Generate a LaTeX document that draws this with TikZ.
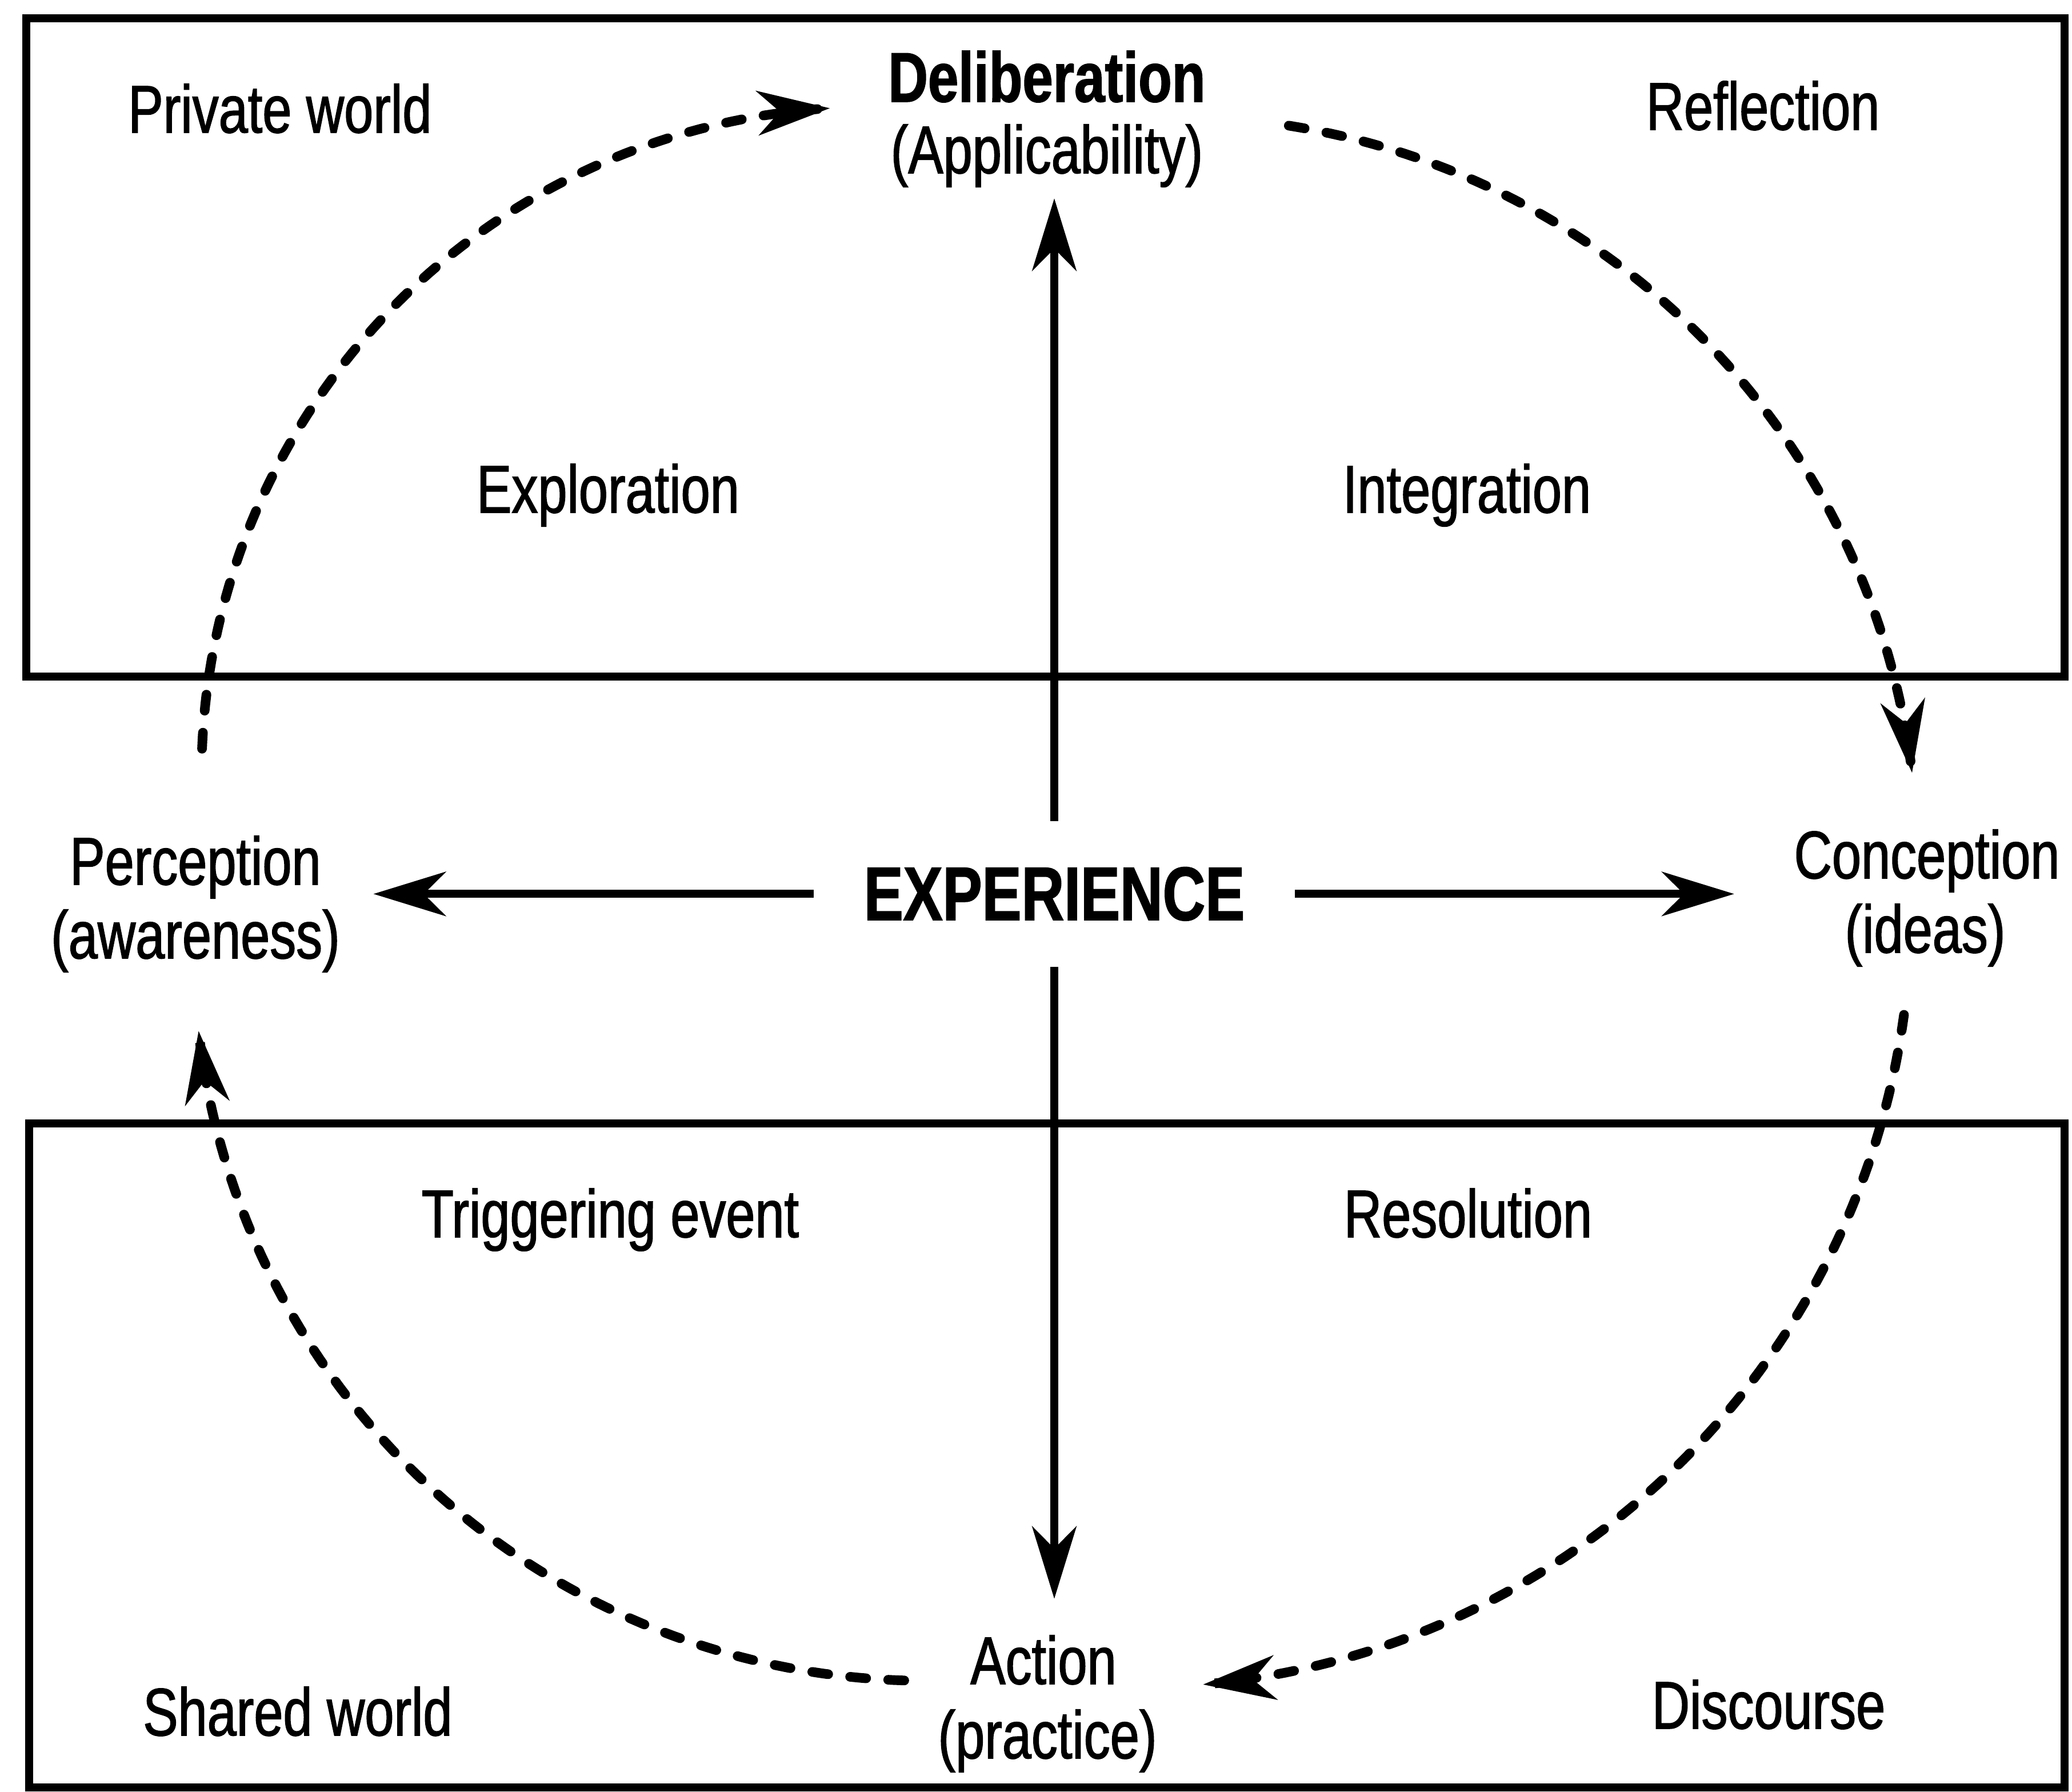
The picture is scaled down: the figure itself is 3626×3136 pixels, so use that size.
\documentclass[tikz,border=0pt]{standalone}
\usepackage{fontspec}
\setmainfont[FakeStretch=0.78, FakeBold=1.3]{Liberation Sans}
\usetikzlibrary{arrows.meta}
\begin{document}
\begin{tikzpicture}[x=0.01cm, y=-0.01cm,
  lbl/.style={inner sep=0pt, anchor=base, font=\fontsize{33.5}{36}\selectfont},
  bld/.style={inner sep=0pt, anchor=base, font=\fontsize{35}{36}\selectfont\bfseries},
  frame/.style={draw, line width=4pt},
  arr/.style={line width=4pt, -{Stealth[length=36pt, width=22pt, inset=11pt]}},
  darr/.style={line width=4.8pt, line cap=round, dash pattern=on 8pt off 11pt, -{Stealth[length=36pt, width=22pt, inset=11pt]}},
]
\useasboundingbox (0,0) rectangle (3626,3136);
% frames
\draw[frame] (46,32) rectangle (3613,1184);
\draw[frame] (51,1966) rectangle (3613,3128);
% labels
\node[lbl] (priv) at (490,232) {Private world};
\node[bld] (delib) at (1832,178) {Deliberation};
\node[lbl] (appl) at (1832,303) {(Applicability)};
\node[lbl] (refl) at (3085,227) {Reflection};
\node[lbl] (expl) at (1064,897) {Exploration};
\node[lbl] (integ) at (2567,897) {Integration};
\node[lbl] (perc) at (342,1548) {Perception};
\node[lbl] (perc2) at (342,1677) {(awareness)};
\node[bld, font=\fontsize{37.7}{40}\selectfont\bfseries, inner xsep=0.87cm, inner ysep=0.8cm] (exp) at (1845,1610) {EXPERIENCE};
\node[lbl] (conc) at (3372,1537) {Conception};
\node[lbl] (conc2) at (3369,1667) {(ideas)};
\node[lbl] (trig) at (1068,2165) {Triggering event};
\node[lbl] (reso) at (2569,2165) {Resolution};
\node[lbl] (act) at (1826,2947) {Action};
\node[lbl] (act2) at (1833,3077) {(practice)};
\node[lbl] (shar) at (521,3037) {Shared world};
\node[lbl] (disc) at (3095,3025) {Discourse};
% solid arrows from EXPERIENCE
\draw[arr, shorten >=0.19cm] (exp.north) -- (exp.north |- appl.south);
\draw[arr, shorten >=0.63cm] (exp.south) -- (exp.south |- act.north);
\draw[arr, shorten >=0.58cm] (exp.west) -- (exp.west -| perc2.east);
\draw[arr, shorten >=1.04cm] (exp.east) -- (exp.east -| conc.west);
% dashed cycle
\draw[darr] plot[domain=0:1, samples=90] ({1522.6+1170*cos(177.7-84.3*\x)}, {1357.2-1170*sin(177.7-84.3*\x)});
\draw[darr] plot[domain=0:1, samples=90] ({2051.4+1304*cos(81.0-74.2*\x)}, {1507.8-1304*sin(81.0-74.2*\x)});
\draw[darr] plot[domain=0:1, samples=90] ({1983.4+1361*cos(-7.75-77.15*\x)}, {1592.4-1361*sin(-7.75-77.15*\x)});
\draw[darr] plot[domain=0:1, samples=90] ({1620.4+1281*cos(268.3-81.9*\x)}, {1660.4-1281*sin(268.3-81.9*\x)});
\end{tikzpicture}
\end{document}
